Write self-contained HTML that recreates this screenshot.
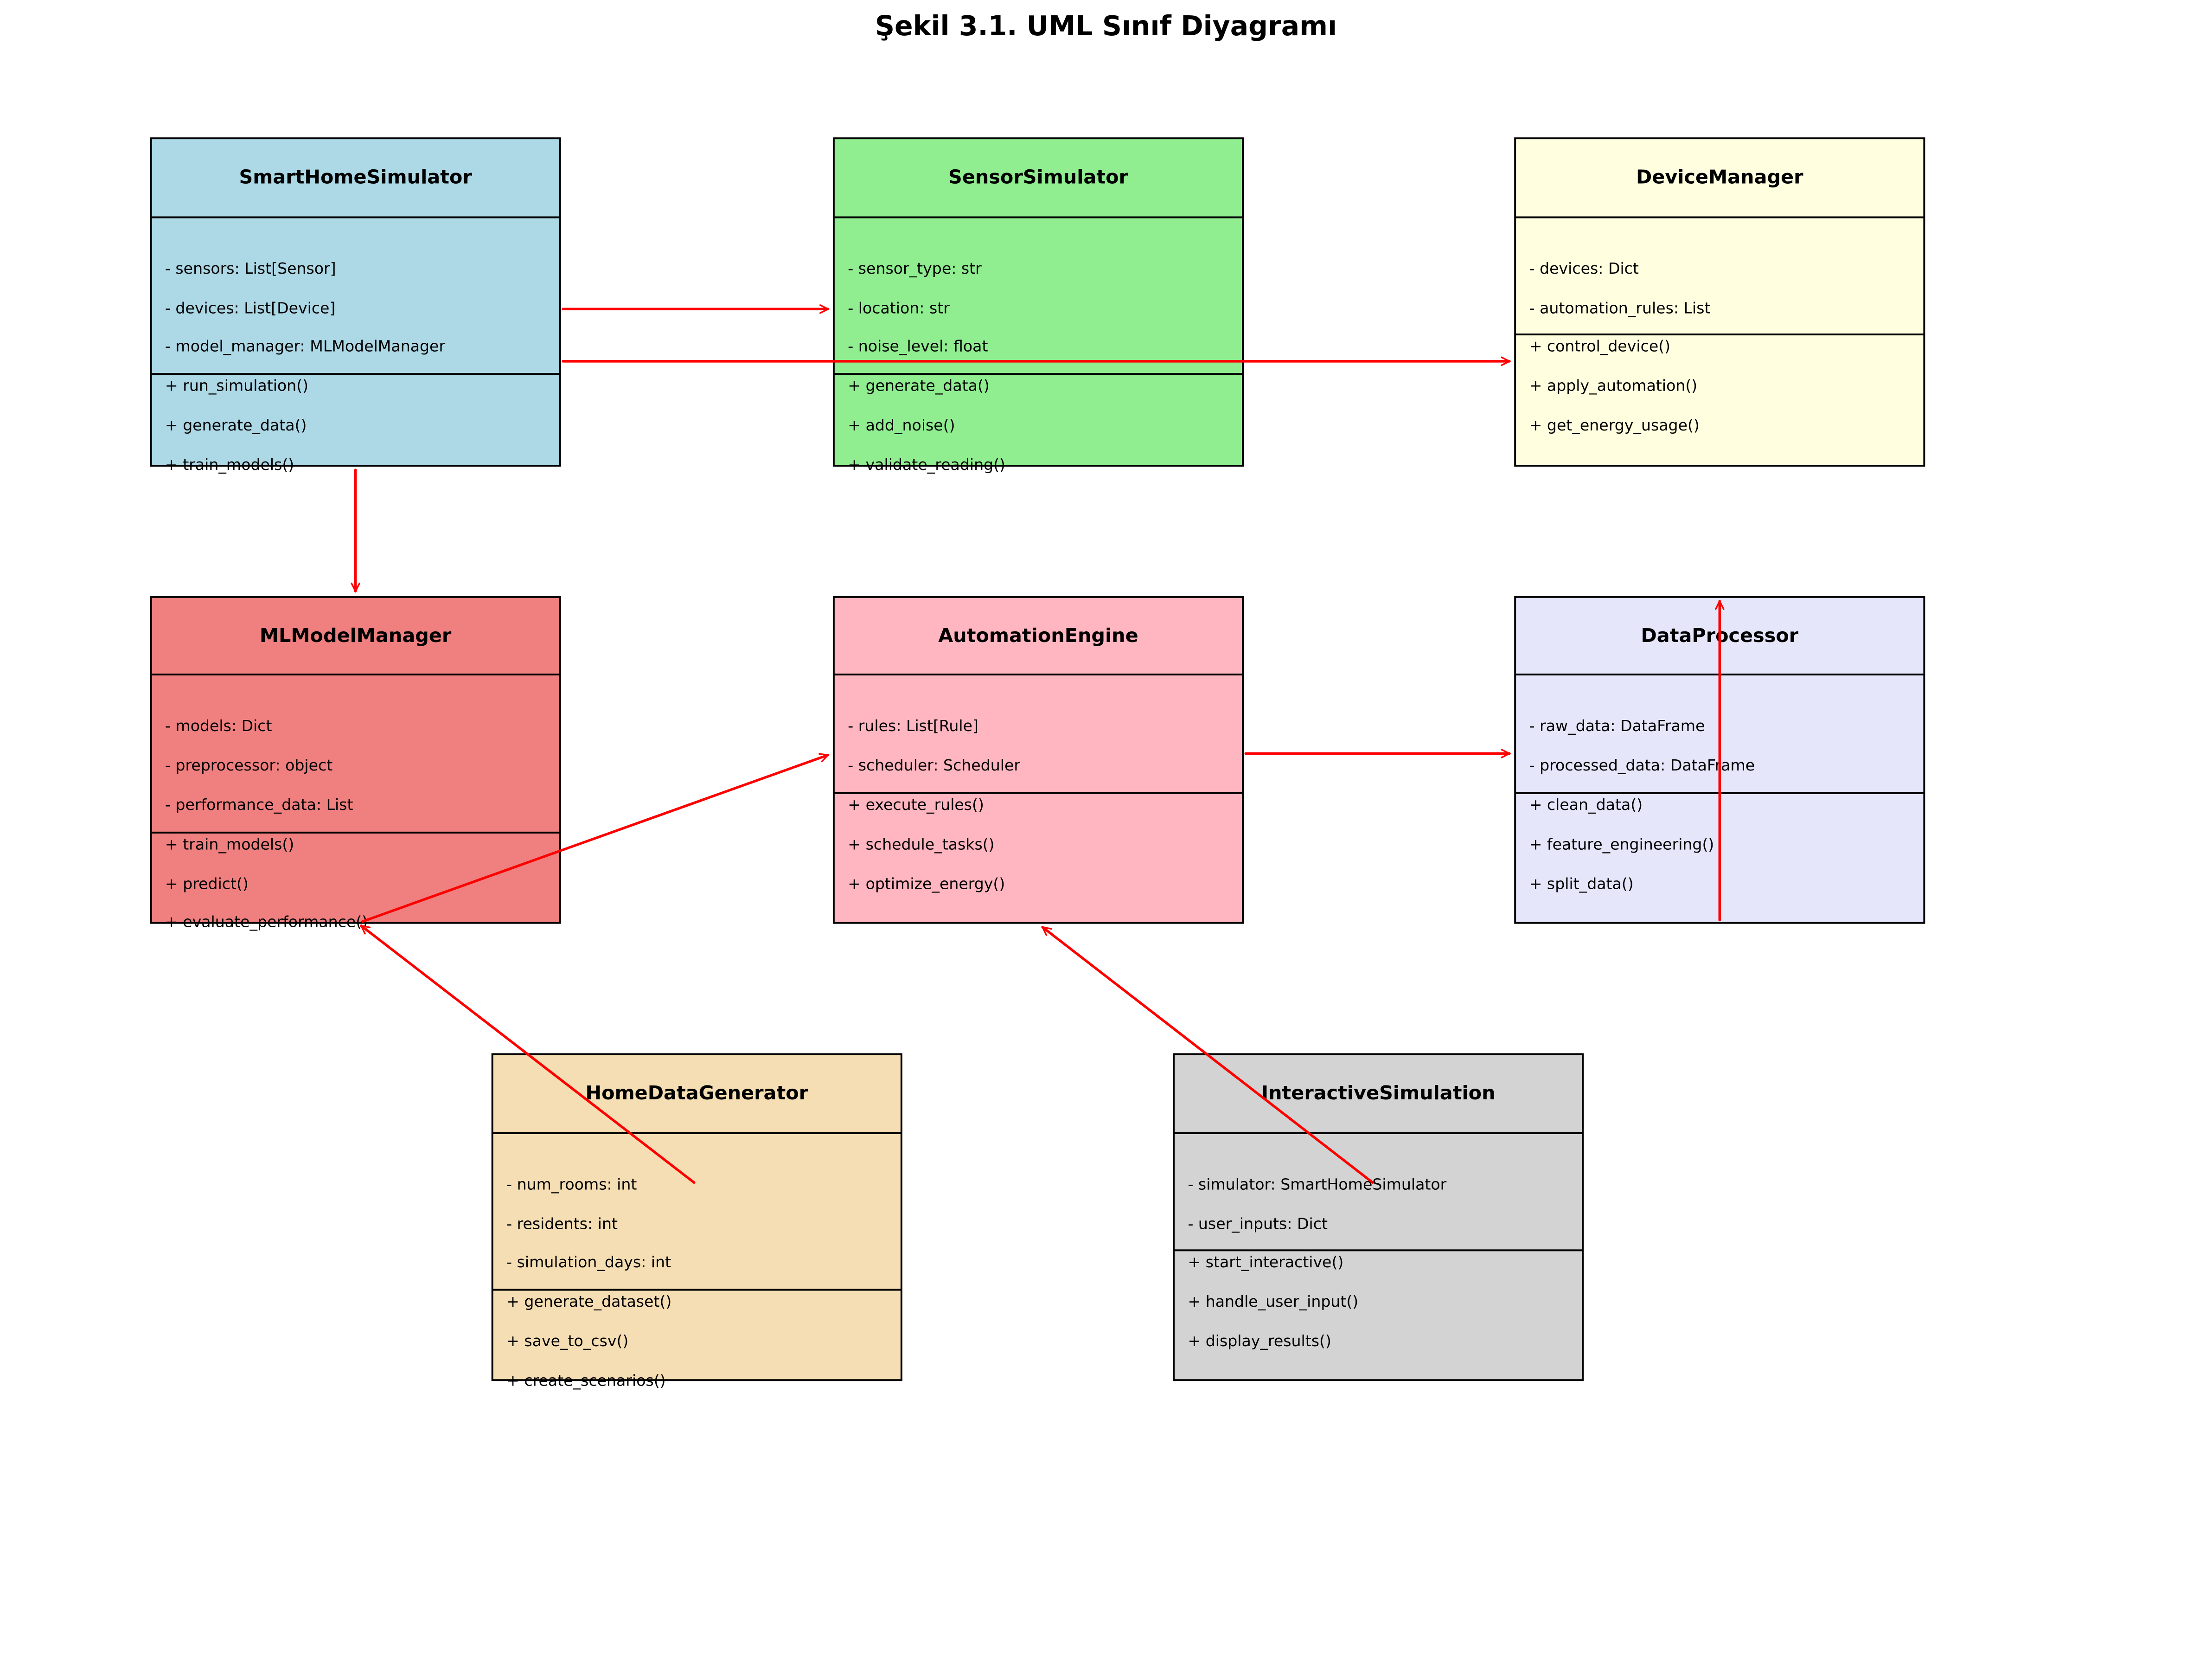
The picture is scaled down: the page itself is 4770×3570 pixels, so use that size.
<!DOCTYPE html>
<html><head><meta charset="utf-8"><style>html,body{margin:0;padding:0;background:#fff}svg{display:block}</style></head>
<body>
<svg xmlns="http://www.w3.org/2000/svg" width="4770" height="3570" viewBox="0 0 1568 1173.5" font-family="DejaVu Sans, Liberation Sans, sans-serif">
<defs>
<marker id="a" viewBox="0 0 10 10" refX="9" refY="5" markerWidth="7" markerHeight="7" orient="auto" markerUnits="userSpaceOnUse">
<polyline points="1,1 9,5 1,9" fill="none" stroke="#f00" stroke-width="1.6" stroke-linecap="round" stroke-linejoin="round"/>
</marker>
</defs>
<rect width="1568" height="1173.5" fill="#fff"/>
<text x="784" y="25" text-anchor="middle" font-weight="bold" font-size="19.2">Şekil 3.1. UML Sınıf Diyagramı</text>
<g stroke="#000" stroke-width="1.3">
<rect x="107" y="98" width="290" height="232" fill="#add8e6"/><line x1="107" y1="154" x2="397" y2="154"/><line x1="107" y1="265" x2="397" y2="265"/>
<rect x="591" y="98" width="290" height="232" fill="#90ee90"/><line x1="591" y1="154" x2="881" y2="154"/><line x1="591" y1="265" x2="881" y2="265"/>
<rect x="1074" y="98" width="290" height="232" fill="#ffffe0"/><line x1="1074" y1="154" x2="1364" y2="154"/><line x1="1074" y1="237" x2="1364" y2="237"/>
<rect x="107" y="423" width="290" height="231" fill="#f08080"/><line x1="107" y1="478" x2="397" y2="478"/><line x1="107" y1="590" x2="397" y2="590"/>
<rect x="591" y="423" width="290" height="231" fill="#ffb6c1"/><line x1="591" y1="478" x2="881" y2="478"/><line x1="591" y1="562" x2="881" y2="562"/>
<rect x="1074" y="423" width="290" height="231" fill="#e6e6fa"/><line x1="1074" y1="478" x2="1364" y2="478"/><line x1="1074" y1="562" x2="1364" y2="562"/>
<rect x="349" y="747" width="290" height="231" fill="#f5deb3"/><line x1="349" y1="803" x2="639" y2="803"/><line x1="349" y1="914" x2="639" y2="914"/>
<rect x="832" y="747" width="290" height="231" fill="#d3d3d3"/><line x1="832" y1="803" x2="1122" y2="803"/><line x1="832" y1="886" x2="1122" y2="886"/>
</g>
<g font-size="13.6" font-weight="bold" text-anchor="middle">
<text x="252" y="130">SmartHomeSimulator</text>
<text x="736" y="130">SensorSimulator</text>
<text x="1219" y="130">DeviceManager</text>
<text x="252" y="455">MLModelManager</text>
<text x="736" y="455">AutomationEngine</text>
<text x="1219" y="455">DataProcessor</text>
<text x="494" y="779">HomeDataGenerator</text>
<text x="977" y="779">InteractiveSimulation</text>
</g>
<g font-size="10.9">
<text x="117" y="194">- sensors: List[Sensor]</text>
<text x="117" y="222">- devices: List[Device]</text>
<text x="117" y="249">- model_manager: MLModelManager</text>
<text x="117" y="277">+ run_simulation()</text>
<text x="117" y="305">+ generate_data()</text>
<text x="117" y="333">+ train_models()</text>

<text x="601" y="194">- sensor_type: str</text>
<text x="601" y="222">- location: str</text>
<text x="601" y="249">- noise_level: float</text>
<text x="601" y="277">+ generate_data()</text>
<text x="601" y="305">+ add_noise()</text>
<text x="601" y="333">+ validate_reading()</text>

<text x="1084" y="194">- devices: Dict</text>
<text x="1084" y="222">- automation_rules: List</text>
<text x="1084" y="249">+ control_device()</text>
<text x="1084" y="277">+ apply_automation()</text>
<text x="1084" y="305">+ get_energy_usage()</text>

<text x="117" y="518">- models: Dict</text>
<text x="117" y="546">- preprocessor: object</text>
<text x="117" y="574">- performance_data: List</text>
<text x="117" y="602">+ train_models()</text>
<text x="117" y="630">+ predict()</text>
<text x="117" y="657">+ evaluate_performance()</text>

<text x="601" y="518">- rules: List[Rule]</text>
<text x="601" y="546">- scheduler: Scheduler</text>
<text x="601" y="574">+ execute_rules()</text>
<text x="601" y="602">+ schedule_tasks()</text>
<text x="601" y="630">+ optimize_energy()</text>

<text x="1084" y="518">- raw_data: DataFrame</text>
<text x="1084" y="546">- processed_data: DataFrame</text>
<text x="1084" y="574">+ clean_data()</text>
<text x="1084" y="602">+ feature_engineering()</text>
<text x="1084" y="630">+ split_data()</text>

<text x="359" y="843">- num_rooms: int</text>
<text x="359" y="871">- residents: int</text>
<text x="359" y="898">- simulation_days: int</text>
<text x="359" y="926">+ generate_dataset()</text>
<text x="359" y="954">+ save_to_csv()</text>
<text x="359" y="982">+ create_scenarios()</text>

<text x="842" y="843">- simulator: SmartHomeSimulator</text>
<text x="842" y="871">- user_inputs: Dict</text>
<text x="842" y="898">+ start_interactive()</text>
<text x="842" y="926">+ handle_user_input()</text>
<text x="842" y="954">+ display_results()</text>
</g>
<g stroke="#f00" stroke-width="1.8" fill="none" stroke-linecap="round" marker-end="url(#a)">
<line x1="399" y1="219" x2="587" y2="219"/>
<line x1="399" y1="256" x2="1070" y2="256"/>
<line x1="252" y1="333" x2="252" y2="419"/>
<line x1="257" y1="653" x2="587" y2="535"/>
<line x1="883" y1="534" x2="1070" y2="534"/>
<line x1="1219" y1="652" x2="1219" y2="426"/>
<line x1="492" y1="838" x2="256" y2="656"/>
<line x1="973" y1="838" x2="739" y2="657"/>
</g>
</svg>
</body></html>
